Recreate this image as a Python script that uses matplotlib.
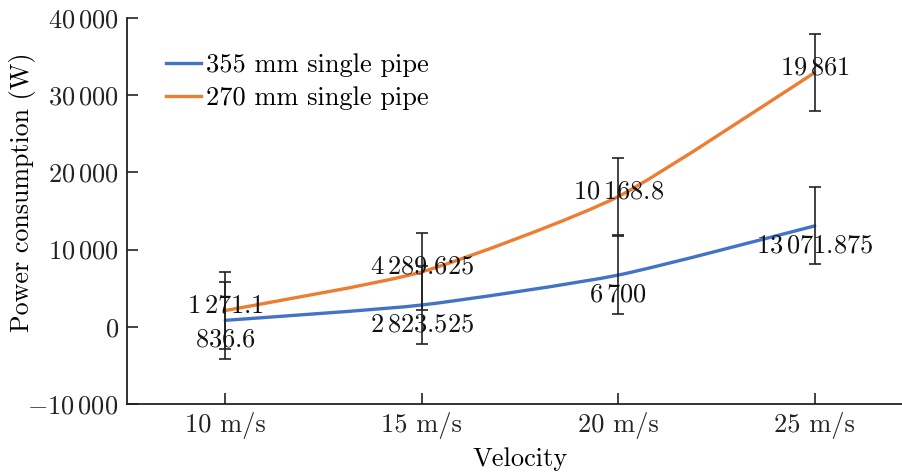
import matplotlib
matplotlib.use("Agg")
import matplotlib.pyplot as plt
from matplotlib.path import Path
from matplotlib.patches import PathPatch
from matplotlib.lines import Line2D
import numpy as np

plt.rcParams['font.family'] = 'serif'
plt.rcParams['font.serif'] = ['cmr10']
plt.rcParams['mathtext.fontset'] = 'cm'
plt.rcParams['axes.unicode_minus'] = False

categories = ['10 m/s', '15 m/s', '20 m/s', '25 m/s']
series_names = ['355 mm single pipe', '270 mm single pipe']
pipe355 = [836.6, 2823.525, 6700, 13071.875]
pipe270 = [1271.1, 4289.625, 10168.8, 19861]   # stacked on top of 355 mm
label355 = ['836.6', '2\\,823.525', '6\\,700', '13\\,071.875']
label270 = ['1\\,271.1', '4\\,289.625', '10\\,168.8', '19\\,861']
error = [5000, 5000, 5000, 5000]
yticks = [-10000, 0, 10000, 20000, 30000, 40000]
ytick_labels = ['$-10\\,000$', '$0$', '$10\\,000$', '$20\\,000$', '$30\\,000$', '$40\\,000$']

blue = '#4472C4'
orange = '#ED7D31'

fig = plt.figure(figsize=(9.03, 4.74), dpi=100)
W, H = 903, 474
ax = fig.add_axes([127 / W, (H - 404) / H, (913 - 127) / W, (404 - 18) / H])

x = np.arange(len(categories))
y1 = np.array(pipe355, dtype=float)
y2 = y1 + np.array(pipe270, dtype=float)


def smooth_path(xs, ys, t=0.1):
    pts = np.column_stack([xs, ys])
    n = len(pts)
    verts = [pts[0]]
    codes = [Path.MOVETO]
    for i in range(n - 1):
        p0 = pts[i - 1] if i > 0 else pts[i]
        p1 = pts[i]
        p2 = pts[i + 1]
        p3 = pts[i + 2] if i + 2 < n else pts[i + 1]
        c1 = p1 + (p2 - p0) * t
        c2 = p2 - (p3 - p1) * t
        verts += [c1, c2, p2]
        codes += [Path.CURVE4] * 3
    return Path(verts, codes)


for ys, col in [(y1, blue), (y2, orange)]:
    patch = PathPatch(smooth_path(x, ys), facecolor='none', edgecolor=col,
                      lw=2.4, zorder=3, capstyle='round', joinstyle='round')
    ax.add_patch(patch)

for ys in (y1, y2):
    ax.errorbar(x, ys, yerr=error, fmt='none', ecolor='#222222', elinewidth=1.2,
                capsize=4.6, capthick=1.2, zorder=4)

for xi, yi, lab in zip(x, y1, label355):
    ax.annotate('$' + lab + '$', (xi, yi), xytext=(0, -14), textcoords='offset points',
                ha='center', va='center', fontsize=19, color='#111111', zorder=5)
for xi, yi, lab in zip(x, y2, label270):
    ax.annotate('$' + lab + '$', (xi, yi), xytext=(0, 3.5), textcoords='offset points',
                ha='center', va='center', fontsize=19, color='#111111', zorder=5)

ax.set_xlim(-0.5, 3.5)
ax.set_ylim(-10000, 40000)
ax.set_xticks(x)
ax.set_xticklabels(categories, fontsize=19)
ax.set_yticks(yticks)
ax.set_yticklabels(ytick_labels, fontsize=19)
ax.tick_params(direction='in', length=8, width=1.2, colors='#222222', pad=6)
for s in ('top', 'right'):
    ax.spines[s].set_visible(False)
for s in ('left', 'bottom'):
    ax.spines[s].set_linewidth(1.3)
    ax.spines[s].set_color('#222222')

ax.set_xlabel('Velocity', fontsize=19, labelpad=6)
ax.set_ylabel('Power consumption (W)', fontsize=18.7, va='center')
ax.yaxis.set_label_coords((23 - 127) / 786, (404 - 192) / 386)

handles = [Line2D([0], [0], color=blue, lw=2.4), Line2D([0], [0], color=orange, lw=2.4)]
ax.legend(handles, series_names, loc='upper left', bbox_to_anchor=(0.02, 0.97),
          frameon=False, fontsize=19, handlelength=1.3, handletextpad=0.2,
          labelspacing=0.35)

fig.savefig('out.png', dpi=100)
